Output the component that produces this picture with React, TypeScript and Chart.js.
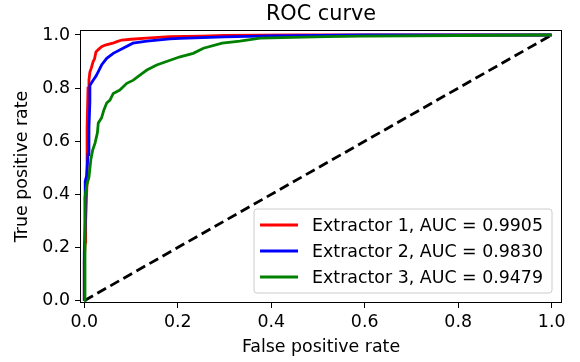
import React, { useEffect, useRef } from "react";
import { Chart, registerables } from "chart.js";

Chart.register(...registerables);

const FONT = "DejaVu Sans";
const TITLE = "ROC curve";
const X_LABEL = "False positive rate";
const Y_LABEL = "True positive rate";
const TICKS = [0, 0.2, 0.4, 0.6, 0.8, 1.0];
const SERIES_LABELS = [
  "Extractor 1, AUC = 0.9905",
  "Extractor 2, AUC = 0.9830",
  "Extractor 3, AUC = 0.9479",
];
const SERIES_COLORS = ["#ff0000", "#0000ff", "#008000"];

const FPR_1 = [0, 0, 0.002, 0.003, 0.006, 0.006, 0.008, 0.01, 0.012, 0.015, 0.019, 0.022, 0.025, 0.03, 0.037, 0.045, 0.061, 0.07, 0.08, 0.1, 0.133, 0.183, 0.25, 0.3, 0.45, 1];
const TPR_1 = [0, 0.15, 0.22, 0.3, 0.45, 0.65, 0.8, 0.83, 0.86, 0.875, 0.9, 0.91, 0.936, 0.945, 0.956, 0.962, 0.969, 0.975, 0.981, 0.984, 0.988, 0.994, 0.996, 0.998, 1, 1];

const FPR_2 = [0, 0, 0.002, 0.002, 0.005, 0.008, 0.01, 0.012, 0.012, 0.019, 0.025, 0.03, 0.037, 0.048, 0.062, 0.083, 0.104, 0.134, 0.183, 0.205, 0.3, 0.4, 0.6, 1];
const TPR_2 = [0, 0.18, 0.3, 0.45, 0.47, 0.55, 0.65, 0.75, 0.81, 0.83, 0.845, 0.862, 0.887, 0.912, 0.931, 0.95, 0.969, 0.977, 0.985, 0.987, 0.993, 0.997, 1, 1];

const FPR_3 = [0, 0.0015, 0.006, 0.01, 0.014, 0.018, 0.023, 0.028, 0.03, 0.037, 0.042, 0.048, 0.055, 0.062, 0.076, 0.091, 0.105, 0.119, 0.134, 0.155, 0.176, 0.205, 0.233, 0.255, 0.295, 0.333, 0.376, 0.447, 0.519, 0.59, 0.8, 0.98, 1];
const TPR_3 = [0, 0.39, 0.44, 0.465, 0.53, 0.567, 0.593, 0.631, 0.669, 0.688, 0.718, 0.744, 0.755, 0.78, 0.793, 0.818, 0.83, 0.849, 0.868, 0.887, 0.9, 0.918, 0.931, 0.95, 0.969, 0.977, 0.988, 0.991, 0.994, 0.996, 0.998, 1, 1];

const CHANCE_X = [0, 1];
const CHANCE_Y = [0, 1];

const toPoints = (xs: number[], ys: number[]) => xs.map((x, i) => ({ x, y: ys[i] }));

const framePlugin = {
  id: "frame",
  afterDatasetsDraw(chart: any) {
    const { ctx, chartArea } = chart;
    const l = Math.round(chartArea.left) - 0.5;
    const t = Math.round(chartArea.top) - 0.5;
    const r = Math.round(chartArea.right) + 0.5;
    const b = Math.round(chartArea.bottom) + 0.5;
    ctx.save();
    ctx.strokeStyle = "#000";
    ctx.lineWidth = 1;
    ctx.strokeRect(l, t, r - l, b - t);
    ctx.restore();
  },
};

const titlePlugin = {
  id: "plotTitle",
  afterDraw(chart: any) {
    const { ctx, chartArea } = chart;
    ctx.save();
    ctx.fillStyle = "#000";
    ctx.font = `20.8px "${FONT}"`;
    ctx.textAlign = "center";
    ctx.textBaseline = "alphabetic";
    ctx.fillText(TITLE, (chartArea.left + chartArea.right) / 2, 20);
    ctx.restore();
  },
};

const legendPlugin = {
  id: "innerLegend",
  afterDraw(chart: any) {
    const { ctx, chartArea } = chart;
    ctx.save();
    ctx.font = `17.4px "${FONT}"`;
    const textW = Math.max(...SERIES_LABELS.map((s) => ctx.measureText(s).width));
    const padL = 6;
    const lineLen = 38;
    const gap = 14;
    const padR = 9;
    const rowH = 26;
    const padV = 16;
    const w = padL + lineLen + gap + textW + padR;
    const h = padV * 2 + rowH * (SERIES_LABELS.length - 1);
    const right = chartArea.right - 9;
    const bottom = chartArea.bottom - 9;
    const left = right - w;
    const top = bottom - h;
    const rad = 3;
    ctx.beginPath();
    ctx.moveTo(left + rad, top);
    ctx.lineTo(left + w - rad, top);
    ctx.arcTo(left + w, top, left + w, top + rad, rad);
    ctx.lineTo(left + w, top + h - rad);
    ctx.arcTo(left + w, top + h, left + w - rad, top + h, rad);
    ctx.lineTo(left + rad, top + h);
    ctx.arcTo(left, top + h, left, top + h - rad, rad);
    ctx.lineTo(left, top + rad);
    ctx.arcTo(left, top, left + rad, top, rad);
    ctx.closePath();
    ctx.fillStyle = "rgba(255,255,255,0.8)";
    ctx.fill();
    ctx.strokeStyle = "#cccccc";
    ctx.lineWidth = 1;
    ctx.stroke();
    SERIES_LABELS.forEach((label, i) => {
      const cy = top + padV + i * rowH;
      ctx.beginPath();
      ctx.strokeStyle = SERIES_COLORS[i];
      ctx.lineWidth = 2.8;
      ctx.moveTo(left + padL, cy);
      ctx.lineTo(left + padL + lineLen, cy);
      ctx.stroke();
      ctx.fillStyle = "#000";
      ctx.textAlign = "left";
      ctx.textBaseline = "middle";
      ctx.fillText(label, left + padL + lineLen + gap, cy + 1);
    });
    ctx.restore();
  },
};

export default function App() {
  const ref = useRef<HTMLCanvasElement>(null);

  useEffect(() => {
    if (!ref.current) return;
    const tickFont = { family: FONT, size: 17.4 };
    const series = [
      toPoints(FPR_1, TPR_1),
      toPoints(FPR_2, TPR_2),
      toPoints(FPR_3, TPR_3),
    ];
    const chart = new Chart(ref.current, {
      type: "scatter",
      data: {
        datasets: [
          ...series.map((pts, i) => ({
            label: SERIES_LABELS[i],
            data: pts,
            showLine: true,
            borderColor: SERIES_COLORS[i],
            backgroundColor: SERIES_COLORS[i],
            borderWidth: 2.8,
            pointRadius: 0,
            tension: 0,
            order: 3 - i,
          })),
          {
            label: "chance",
            data: toPoints(CHANCE_X, CHANCE_Y),
            showLine: true,
            borderColor: "#000",
            backgroundColor: "#000",
            borderWidth: 2.8,
            borderDash: [10, 5],
            pointRadius: 0,
            order: 4,
          },
        ],
      },
      options: {
        animation: false,
        responsive: false,
        maintainAspectRatio: false,
        layout: { padding: { left: 0, top: 31, right: 19, bottom: 0 } },
        plugins: {
          legend: { display: false },
          title: { display: false },
          tooltip: { enabled: false },
        },
        scales: {
          x: {
            type: "linear",
            min: -0.007,
            max: 1.02,
            afterFit: (s: any) => {
              s.height = 60;
            },
            afterBuildTicks: (s: any) => {
              s.ticks = TICKS.map((v) => ({ value: v }));
            },
            ticks: {
              callback: (v: any) => Number(v).toFixed(1),
              color: "#000",
              font: tickFont,
              padding: 4,
              maxRotation: 0,
              autoSkip: false,
            },
            grid: {
              display: true,
              drawOnChartArea: false,
              drawTicks: true,
              tickLength: 6,
              color: "#000",
              lineWidth: 1,
            },
            border: { display: false },
            title: {
              display: true,
              text: X_LABEL,
              color: "#000",
              font: tickFont,
              padding: { top: 0, bottom: 3.6 },
            },
          },
          y: {
            type: "linear",
            min: -0.005,
            max: 1.015,
            afterFit: (s: any) => {
              s.width = 81;
            },
            afterBuildTicks: (s: any) => {
              s.ticks = TICKS.map((v) => ({ value: v }));
            },
            ticks: {
              callback: (v: any) => Number(v).toFixed(1),
              color: "#000",
              font: tickFont,
              padding: 5,
              autoSkip: false,
            },
            grid: {
              display: true,
              drawOnChartArea: false,
              drawTicks: true,
              tickLength: 6,
              color: "#000",
              lineWidth: 1,
            },
            border: { display: false },
            title: {
              display: true,
              text: Y_LABEL,
              color: "#000",
              font: tickFont,
              padding: { top: 11.6, bottom: 0 },
            },
          },
        },
      },
      plugins: [framePlugin, titlePlugin, legendPlugin],
    } as any);
    return () => chart.destroy();
  }, []);

  return (
    <div style={{ position: "fixed", left: 0, top: 0, width: 580, height: 362, background: "#fff" }}>
      <canvas ref={ref} width={580} height={362} style={{ display: "block", width: 580, height: 362 }} />
    </div>
  );
}
